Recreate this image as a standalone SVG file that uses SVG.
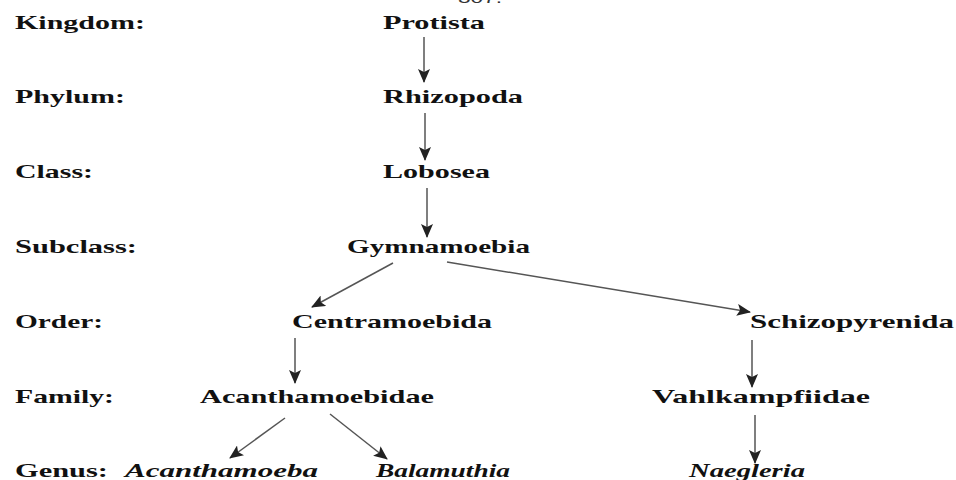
<svg xmlns="http://www.w3.org/2000/svg" width="956" height="480" viewBox="0 0 956 480">
<style>
.t{font-family:"Liberation Serif","Times New Roman",serif;font-weight:bold;font-size:19px;fill:#111}
.i{font-style:italic}
.c{stroke:#555;stroke-width:1.5;fill:none}
</style>
<defs>
<marker id="ah" markerUnits="userSpaceOnUse" markerWidth="14" markerHeight="12" viewBox="0 0 14 12" refX="13" refY="6" orient="auto">
<path d="M0,0 L14,6 L0,12 L3,6 Z" fill="#222"/>
</marker>
</defs>
<rect width="956" height="480" fill="#fff"/>
<text x="458" y="3" style="font-family:'Liberation Sans',Arial,sans-serif;font-size:14px;fill:#333" textLength="44" lengthAdjust="spacingAndGlyphs">307.</text>
<g id="ranks">
<text class="t" x="15" y="29" textLength="130" lengthAdjust="spacingAndGlyphs">Kingdom:</text>
<text class="t" x="15" y="103" textLength="110" lengthAdjust="spacingAndGlyphs">Phylum:</text>
<text class="t" x="15" y="178" textLength="78" lengthAdjust="spacingAndGlyphs">Class:</text>
<text class="t" x="15" y="253" textLength="122" lengthAdjust="spacingAndGlyphs">Subclass:</text>
<text class="t" x="15" y="328" textLength="88" lengthAdjust="spacingAndGlyphs">Order:</text>
<text class="t" x="15" y="403" textLength="99" lengthAdjust="spacingAndGlyphs">Family:</text>
<text class="t" x="15" y="477" textLength="93" lengthAdjust="spacingAndGlyphs">Genus:</text>
</g>
<g id="protista"><text class="t" x="383" y="29" textLength="102" lengthAdjust="spacingAndGlyphs">Protista</text></g>
<g id="rhizopoda"><text class="t" x="383" y="103" textLength="140" lengthAdjust="spacingAndGlyphs">Rhizopoda</text></g>
<g id="lobosea"><text class="t" x="383" y="178" textLength="107" lengthAdjust="spacingAndGlyphs">Lobosea</text></g>
<g id="gymnamoebia"><text class="t" x="347" y="253" textLength="183" lengthAdjust="spacingAndGlyphs">Gymnamoebia</text></g>
<g id="centramoebida"><text class="t" x="292" y="328" textLength="200" lengthAdjust="spacingAndGlyphs">Centramoebida</text></g>
<g id="schizopyrenida"><text class="t" x="750" y="328" textLength="204" lengthAdjust="spacingAndGlyphs">Schizopyrenida</text></g>
<g id="acanthamoebidae"><text class="t" x="200" y="403" textLength="234" lengthAdjust="spacingAndGlyphs">Acanthamoebidae</text></g>
<g id="vahlkampfiidae"><text class="t" x="652" y="403" textLength="218" lengthAdjust="spacingAndGlyphs">Vahlkampfiidae</text></g>
<g id="acanthamoeba"><text class="t i" x="125" y="477" textLength="193" lengthAdjust="spacingAndGlyphs">Acanthamoeba</text></g>
<g id="balamuthia"><text class="t i" x="376" y="477" textLength="134" lengthAdjust="spacingAndGlyphs">Balamuthia</text></g>
<g id="naegleria"><text class="t i" x="689" y="477" textLength="116" lengthAdjust="spacingAndGlyphs">Naegleria</text></g>
<g id="connectors">
<line class="c" x1="424" y1="37" x2="424" y2="82" marker-end="url(#ah)"/>
<line class="c" x1="425" y1="113" x2="425" y2="160" marker-end="url(#ah)"/>
<line class="c" x1="427" y1="188" x2="427" y2="237" marker-end="url(#ah)"/>
<line class="c" x1="393" y1="263" x2="312" y2="307" marker-end="url(#ah)"/>
<line class="c" x1="447" y1="262" x2="750" y2="312" marker-end="url(#ah)"/>
<line class="c" x1="295" y1="338" x2="295" y2="383" marker-end="url(#ah)"/>
<line class="c" x1="752" y1="340" x2="752" y2="387" marker-end="url(#ah)"/>
<line class="c" x1="285" y1="418" x2="230" y2="458" marker-end="url(#ah)"/>
<line class="c" x1="330" y1="414" x2="387" y2="459" marker-end="url(#ah)"/>
<line class="c" x1="755" y1="415" x2="755" y2="463" marker-end="url(#ah)"/>
</g>
</svg>
